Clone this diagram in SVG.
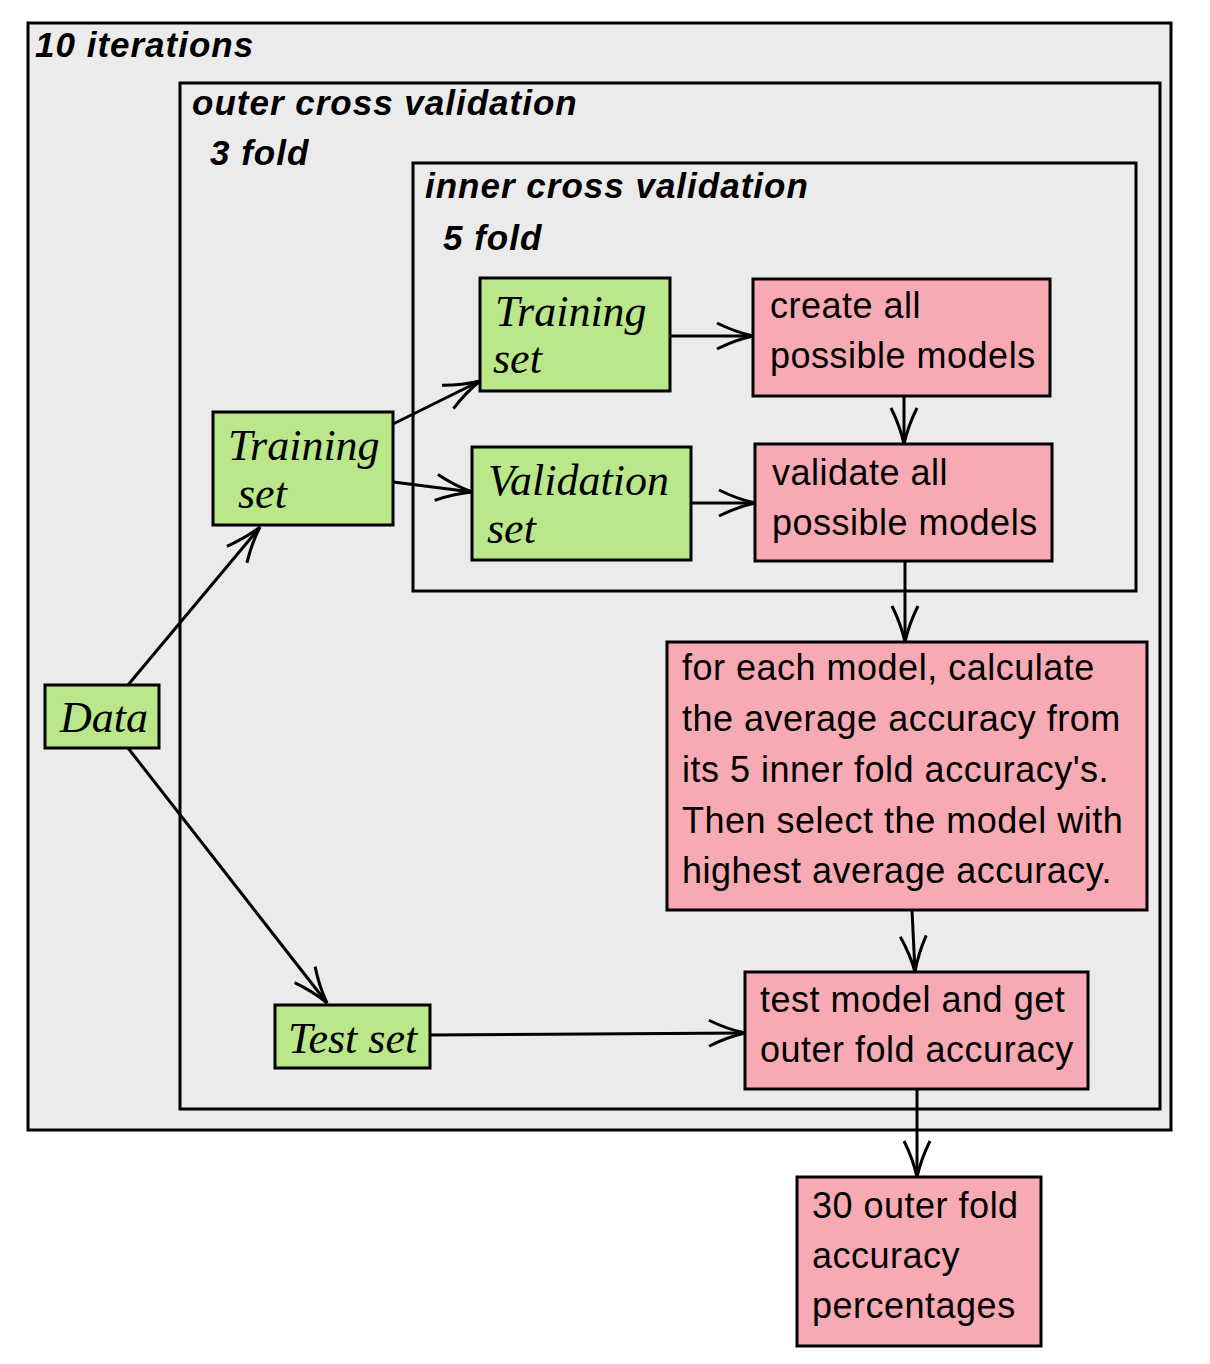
<svg xmlns="http://www.w3.org/2000/svg" width="1210" height="1364" viewBox="0 0 1210 1364">
<style>
.frame{fill:#ebebeb;stroke:#000;stroke-width:3}
.frame2{fill:none;stroke:#000;stroke-width:3}
.g{fill:#b9e78a;stroke:#000;stroke-width:3}
.p{fill:#f7aab3;stroke:#000;stroke-width:3}
.t{font-family:"Liberation Sans",Arial,sans-serif;font-weight:bold;font-style:italic;font-size:35px;letter-spacing:1px;fill:#000}
.s{font-family:"Liberation Serif","DejaVu Serif",serif;font-style:italic;font-size:44px;fill:#000}
.a{font-family:"Liberation Sans",Arial,sans-serif;font-size:36px;letter-spacing:0.5px;fill:#000}
.c{stroke:#000;stroke-width:3;fill:none;marker-end:url(#ah)}
</style>
<defs>
<marker id="ah" viewBox="0 0 40 30" refX="38" refY="15" markerWidth="40" markerHeight="30" markerUnits="userSpaceOnUse" orient="auto">
<path d="M2,2 Q20,11 38,15 Q20,19 2,28" fill="none" stroke="#000" stroke-width="3"/>
</marker>
</defs>
<rect x="0" y="0" width="1210" height="1364" fill="#fff"/>
<g id="iterations">
<rect class="frame" x="28" y="23" width="1143" height="1107"/>
<text class="t" x="35" y="57">10 iterations</text>
</g>
<g id="outer-cv">
<rect class="frame2" x="180" y="83" width="980" height="1026"/>
<text class="t" x="192" y="115">outer cross validation</text>
<text class="t" x="210" y="165">3 fold</text>
</g>
<g id="inner-cv">
<rect class="frame2" x="413" y="163" width="723" height="428"/>
<text class="t" x="425" y="198">inner cross validation</text>
<text class="t" x="443" y="250">5 fold</text>
</g>
<g id="data">
<rect class="g" x="45" y="685" width="114" height="63"/>
<text class="s" x="60" y="732">Data</text>
</g>
<g id="training-outer">
<rect class="g" x="213" y="412" width="180" height="113"/>
<text class="s" x="228" y="460">Training</text>
<text class="s" x="238" y="508">set</text>
</g>
<g id="training-inner">
<rect class="g" x="480" y="278" width="190" height="113"/>
<text class="s" x="495" y="326">Training</text>
<text class="s" x="493" y="373">set</text>
</g>
<g id="validation">
<rect class="g" x="472" y="447" width="219" height="113"/>
<text class="s" x="488" y="495">Validation</text>
<text class="s" x="487" y="543">set</text>
</g>
<g id="test-set">
<rect class="g" x="275" y="1005" width="155" height="63"/>
<text class="s" x="288" y="1053">Test set</text>
</g>
<g id="create">
<rect class="p" x="753" y="279" width="297" height="117"/>
<text class="a" x="770" y="318">create all</text>
<text class="a" x="770" y="368">possible models</text>
</g>
<g id="validate">
<rect class="p" x="755" y="444" width="297" height="117"/>
<text class="a" x="772" y="485">validate all</text>
<text class="a" x="772" y="535">possible models</text>
</g>
<g id="select">
<rect class="p" x="667" y="642" width="480" height="268"/>
<text class="a" x="682" y="680">for each model, calculate</text>
<text class="a" x="682" y="731">the average accuracy from</text>
<text class="a" x="682" y="782">its 5 inner fold accuracy's.</text>
<text class="a" x="682" y="833">Then select the model with</text>
<text class="a" x="682" y="883">highest average accuracy.</text>
</g>
<g id="test-model">
<rect class="p" x="745" y="972" width="343" height="117"/>
<text class="a" x="760" y="1012">test model and get</text>
<text class="a" x="760" y="1062">outer fold accuracy</text>
</g>
<g id="result">
<rect class="p" x="797" y="1177" width="244" height="169"/>
<text class="a" x="812" y="1218">30 outer fold</text>
<text class="a" x="812" y="1268">accuracy</text>
<text class="a" x="812" y="1318">percentages</text>
</g>
<g id="connectors">
<line class="c" x1="128" y1="685" x2="260" y2="527"/>
<line class="c" x1="128" y1="748" x2="327" y2="1003"/>
<line class="c" x1="393" y1="424" x2="480" y2="381"/>
<line class="c" x1="393" y1="482" x2="472" y2="492"/>
<line class="c" x1="670" y1="336" x2="753" y2="336"/>
<line class="c" x1="691" y1="503" x2="755" y2="503"/>
<line class="c" x1="904" y1="396" x2="904" y2="444"/>
<line class="c" x1="905" y1="561" x2="905" y2="642"/>
<line class="c" x1="912" y1="910" x2="915" y2="972"/>
<line class="c" x1="430" y1="1035" x2="745" y2="1033"/>
<line class="c" x1="917" y1="1089" x2="917" y2="1177"/>
</g>
</svg>
